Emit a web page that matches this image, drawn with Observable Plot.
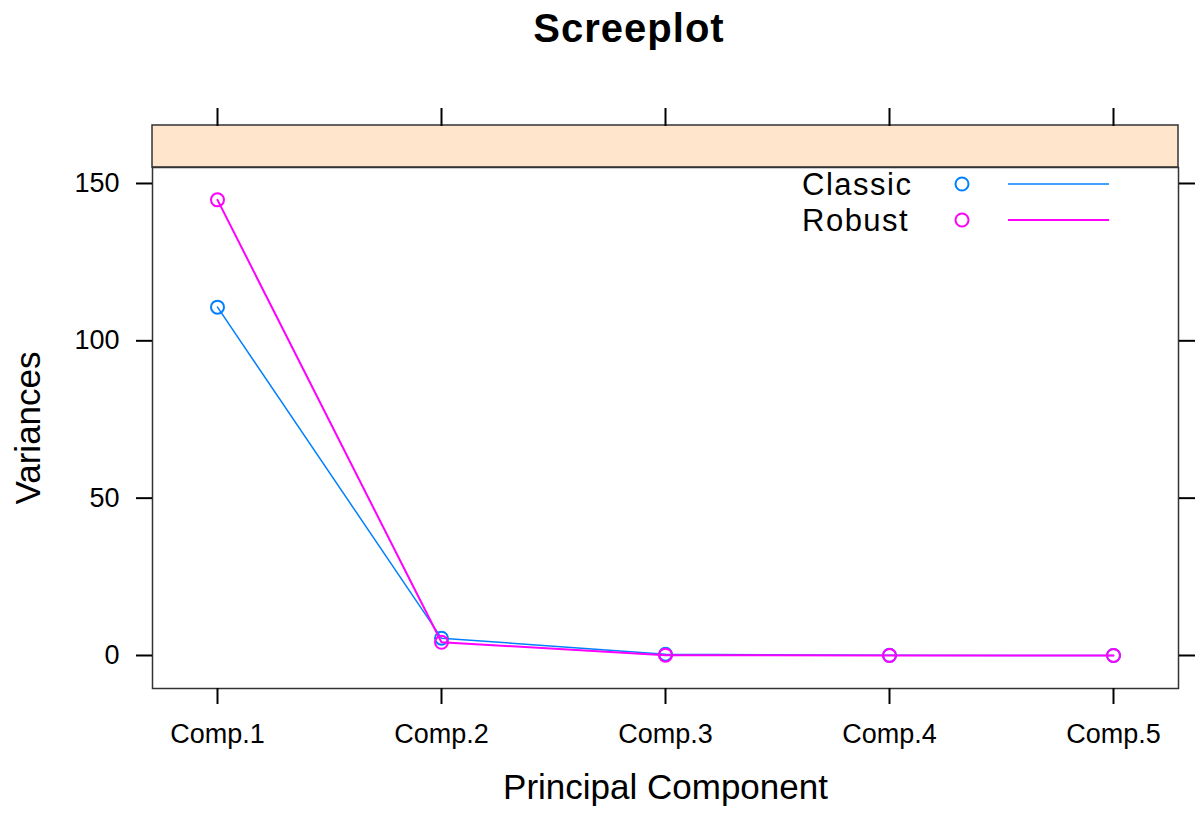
<!DOCTYPE html>
<html>
<head>
<meta charset="utf-8">
<script src="https://cdn.jsdelivr.net/npm/d3@7"></script>
<script src="https://cdn.jsdelivr.net/npm/@observablehq/plot@0.6"></script>
<style>
  html, body { margin: 0; padding: 0; background: #fff; }
  body { width: 1196px; height: 814px; position: relative; overflow: hidden; font-family: "Liberation Sans", Arial, sans-serif; }
  #title { height: 56px; line-height: 56px; padding-left: 62px; box-sizing: border-box; text-align: center; font-weight: bold; font-size: 40px; letter-spacing: 1px; color: #000; }
  #chart svg { display: block; }
  #legend { position: absolute; left: 0; top: 0; pointer-events: none; }
</style>
</head>
<body>
<div id="title">Screeplot</div>
<div id="chart"></div>
<svg id="legend" width="1196" height="814"></svg>
<script>
// ---- data ----
const components = ["Comp.1", "Comp.2", "Comp.3", "Comp.4", "Comp.5"];
const seriesNames = ["Classic", "Robust"];
const seriesColors = ["#0080ff", "#ff00ff"];
const classic = [110.7, 5.5, 0.4, 0.05, 0.02];
const robust = [144.8, 4.2, 0.1, 0.03, 0.01];
const yTicks = [0, 50, 100, 150];
const xLabel = "Principal Component";
const yLabel = "Variances";

const seriesValues = [classic, robust];
const rows = seriesNames.map((name, i) =>
  components.map((c, j) => ({series: name, comp: c, value: seriesValues[i][j]}))
);

// layout
const yMin = -10.49, yMax = 155.08, stripTop = 168.43;
const strokeWidths = [1.5, 2];
const blank = () => "";

const marks = [
  Plot.rect([0], {y1: yMax, y2: stripTop, fill: "#ffe5cc", stroke: "#333", strokeWidth: 1.5}),
  Plot.frame({stroke: "#333", strokeWidth: 1.5}),
  Plot.axisY(yTicks, {anchor: "left", tickSize: 16, tickPadding: 17, fontSize: 27, strokeWidth: 2, label: null}),
  Plot.axisY(yTicks, {anchor: "right", tickSize: 16, tickFormat: blank, strokeWidth: 2, label: null}),
  Plot.axisX({anchor: "bottom", tickSize: 16, tickPadding: 19, fontSize: 27, strokeWidth: 2, label: null}),
  Plot.axisX({anchor: "top", tickSize: 18, dy: -42, tickFormat: blank, strokeWidth: 2, label: null}),
];

rows.forEach((data, i) => {
  marks.push(Plot.line(data, {x: "comp", y: "value", stroke: seriesColors[i], strokeWidth: strokeWidths[i]}));
  marks.push(Plot.dot(data, {x: "comp", y: "value", r: 6.5, stroke: seriesColors[i], strokeWidth: 2, fill: "none"}));
});

marks.push(Plot.text([yLabel], {text: d => d, frameAnchor: "left", textAnchor: "middle", lineAnchor: "middle", dx: -124, rotate: -90, fontSize: 35, fill: "#000"}));
marks.push(Plot.text([xLabel], {text: d => d, frameAnchor: "bottom", textAnchor: "middle", dy: 110, fontSize: 35, fill: "#000"}));

const chart = Plot.plot({
  width: 1196,
  height: 758,
  marginLeft: 152,
  marginRight: 18,
  marginTop: 111,
  marginBottom: 126,
  style: {fontFamily: "'Liberation Sans', Arial, sans-serif", fontSize: "27px", background: "transparent", color: "#000"},
  x: {type: "point", domain: components, padding: 0.283, label: null},
  y: {domain: [yMin, yMax], label: null},
  marks
});
document.getElementById("chart").appendChild(chart);

// ---- legend (overlay) ----
const lg = d3.select("#legend");
seriesNames.forEach((name, i) => {
  const cy = 184 + i * 36;
  lg.append("text").attr("x", 802).attr("y", cy).attr("dy", "0.35em")
    .attr("font-size", 31).attr("letter-spacing", 1.5)
    .attr("font-family", "'Liberation Sans', Arial, sans-serif").attr("fill", "#000").text(name);
  lg.append("circle").attr("cx", 962).attr("cy", cy).attr("r", 6.5)
    .attr("fill", "none").attr("stroke", seriesColors[i]).attr("stroke-width", 2);
  lg.append("line").attr("x1", 1008).attr("x2", 1109).attr("y1", cy).attr("y2", cy)
    .attr("stroke", seriesColors[i]).attr("stroke-width", strokeWidths[i]);
});
</script>
</body>
</html>
